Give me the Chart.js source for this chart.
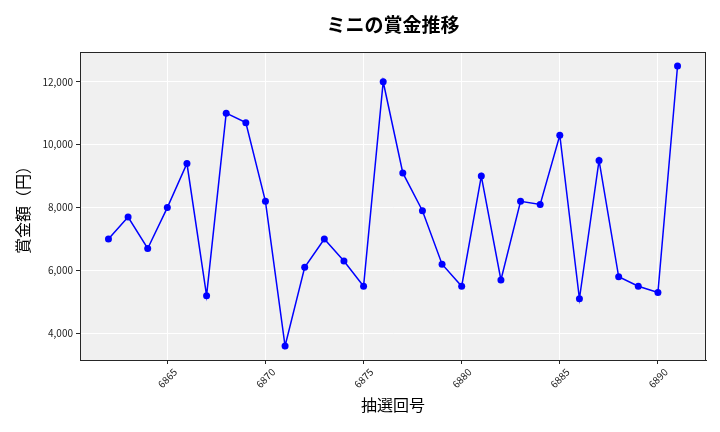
<!DOCTYPE html>
<html>
<head>
<meta charset="utf-8">
<script src="https://cdn.jsdelivr.net/npm/chart.js@4.4.1/dist/chart.umd.min.js"></script>
<style>
html,body{margin:0;padding:0;background:#ffffff;}
#wrap{width:720px;height:432px;}
</style>
</head>
<body>
<div id="wrap"><canvas id="c" width="720" height="432"></canvas></div>
<script>
const drawNumbers = [6862,6863,6864,6865,6866,6867,6868,6869,6870,6871,6872,6873,6874,6875,6876,6877,6878,6879,6880,6881,6882,6883,6884,6885,6886,6887,6888,6889,6890,6891];
const prizes = [7000,7700,6700,8000,9400,5200,11000,10700,8200,3600,6100,7000,6300,5500,12000,9100,7900,6200,5500,9000,5700,8200,8100,10300,5100,9500,5800,5500,5300,12500];
const xTickValues = [6865,6870,6875,6880,6885,6890];
const yTickValues = [4000,6000,8000,10000,12000];
const titleText = 'ミニの賞金推移';
const xLabel = '抽選回号';
const yLabel = '賞金額（円）';

const FONT = '"Noto Sans CJK JP", "Noto Sans", sans-serif';

const xMin = 6860.55, xMax = 6892.45;
const yMin = 3155, yMax = 12945;

const plotDeco = {
  id: 'plotDeco',
  beforeDraw(chart) {
    const {ctx, chartArea: a} = chart;
    ctx.save();
    ctx.fillStyle = '#f0f0f0';
    ctx.fillRect(a.left, a.top, a.right - a.left, a.bottom - a.top);
    ctx.restore();
  },
  afterDraw(chart) {
    const {ctx, chartArea: a} = chart;
    ctx.save();
    ctx.strokeStyle = '#262626';
    ctx.lineWidth = 1;
    ctx.strokeRect(Math.round(a.left) + 0.5, Math.round(a.top) + 0.5, Math.round(a.right - a.left) - 1, Math.round(a.bottom - a.top));
    ctx.fillStyle = '#000000';
    ctx.font = 'bold 19px ' + FONT;
    ctx.textAlign = 'center';
    ctx.textBaseline = 'middle';
    ctx.fillText(titleText, (a.left + a.right) / 2, 25);
    ctx.restore();
  }
};

new Chart(document.getElementById('c'), {
  type: 'line',
  data: {
    datasets: [{
      data: drawNumbers.map((n, i) => ({x: n, y: prizes[i]})),
      borderColor: '#0000ff',
      backgroundColor: '#0000ff',
      pointBackgroundColor: '#0000ff',
      pointBorderColor: '#0000ff',
      pointRadius: 3.5,
      pointBorderWidth: 0,
      borderWidth: 1.5,
      tension: 0,
      fill: false
    }]
  },
  options: {
    responsive: false,
    animation: false,
    devicePixelRatio: 1,
    layout: {padding: {top: 52, right: 14, left: 0, bottom: 0}},
    plugins: {
      legend: {display: false},
      tooltip: {enabled: false},
      title: {display: false}
    },
    scales: {
      x: {
        type: 'linear',
        min: xMin,
        max: xMax,
        afterBuildTicks: s => { s.ticks = xTickValues.map(v => ({value: v})); },
        afterFit: s => { s.height = 72; },
        ticks: {
          autoSkip: false,
          maxRotation: 45,
          minRotation: 45,
          labelOffset: 8,
          padding: 2,
          color: '#222222',
          font: {family: FONT, size: 10},
          callback: v => String(v)
        },
        grid: {color: '#ffffff', lineWidth: 1, tickColor: '#262626', tickLength: 4, drawTicks: true},
        border: {display: true, color: '#262626', width: 1},
        title: {display: true, text: xLabel, color: '#000000', font: {family: FONT, size: 16}, padding: {top: 0, bottom: 17}}
      },
      y: {
        type: 'linear',
        min: yMin,
        max: yMax,
        afterBuildTicks: s => { s.ticks = yTickValues.map(v => ({value: v})); },
        afterFit: s => { s.width = 80; },
        ticks: {
          autoSkip: false,
          padding: 3,
          color: '#222222',
          font: {family: FONT, size: 10},
          callback: v => v.toLocaleString('en-US')
        },
        grid: {color: '#ffffff', lineWidth: 1, tickColor: '#262626', tickLength: 4, drawTicks: true},
        border: {display: true, color: '#262626', width: 1},
        title: {display: true, text: yLabel, color: '#000000', font: {family: FONT, size: 16}, padding: {top: 13, bottom: 0}}
      }
    }
  },
  plugins: [plotDeco]
});
</script>
</body>
</html>
